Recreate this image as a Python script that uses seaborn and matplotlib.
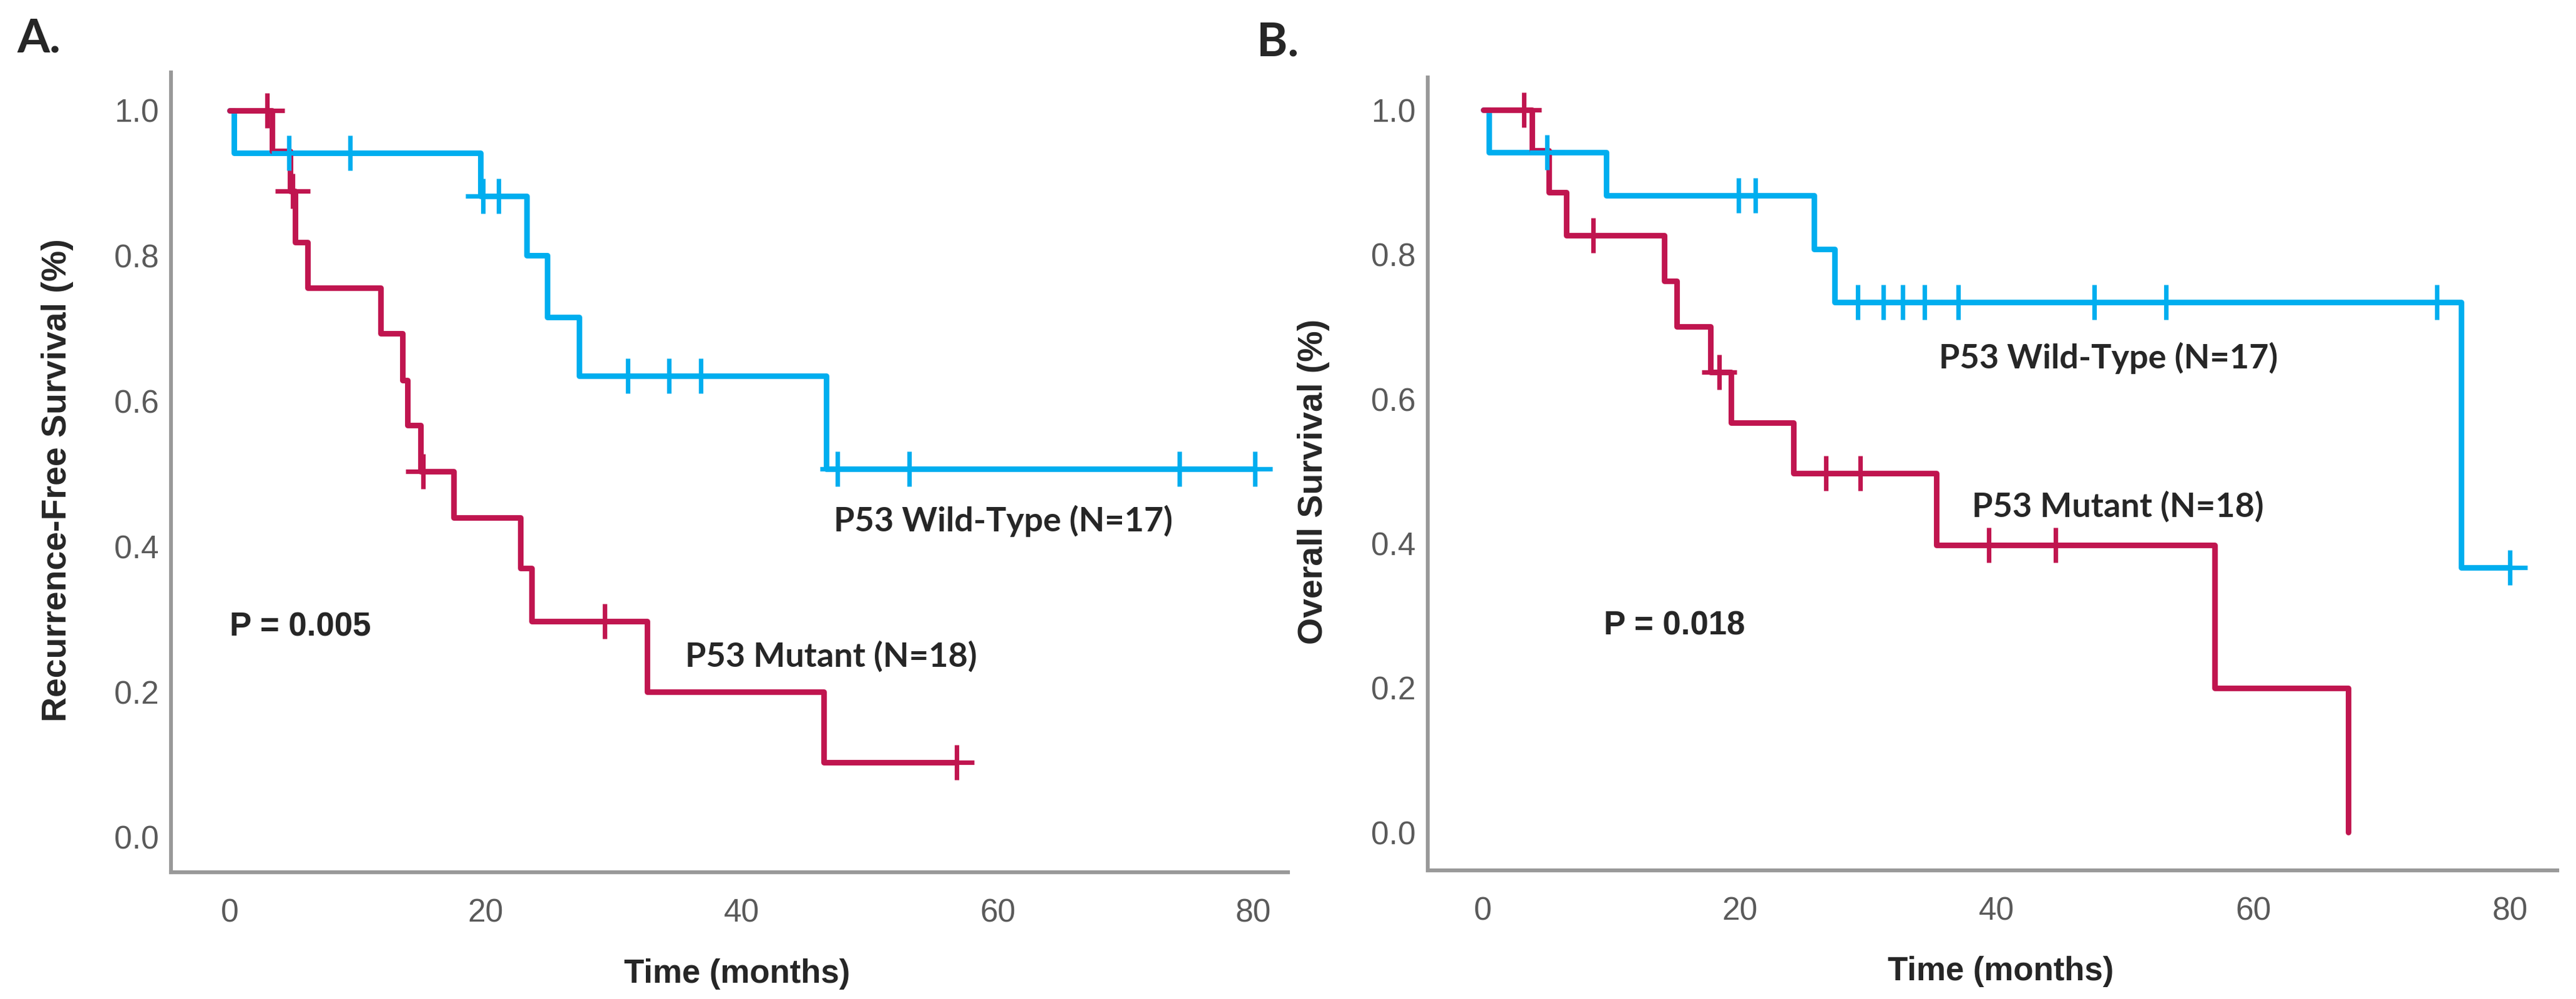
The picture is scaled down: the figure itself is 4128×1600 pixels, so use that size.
import numpy as np
import pandas as pd
import seaborn as sns
import matplotlib.pyplot as plt

# Kaplan-Meier step values (time in months, survival fraction)
# Panel A: recurrence-free survival
a_wt_time = [0, 0.3, 19.6, 23.2, 24.8, 27.3, 46.6, 80.1]
a_wt_surv = [1.0, 0.941, 0.882, 0.80, 0.715, 0.635, 0.507, 0.507]
a_wt_cens = [4.6, 9.4, 19.8, 21.0, 31.1, 34.3, 36.8, 47.5, 53.1, 74.2, 80.1]

a_mut_time = [0, 3.3, 4.7, 5.1, 6.1, 11.8, 13.5, 13.9, 14.9, 17.5, 22.7, 23.6, 32.6, 46.4, 56.8]
a_mut_surv = [1.0, 0.944, 0.889, 0.818, 0.756, 0.693, 0.629, 0.567, 0.503, 0.44, 0.37, 0.297, 0.2, 0.103, 0.103]
a_mut_cens = [2.9, 4.9, 15.1, 29.3, 56.8]

# Panel B: overall survival
b_wt_time = [0, 0.45, 9.6, 25.8, 27.4, 76.2, 80.0]
b_wt_surv = [1.0, 0.941, 0.882, 0.807, 0.734, 0.367, 0.367]
b_wt_cens = [5.0, 19.9, 21.2, 29.2, 31.2, 32.7, 34.4, 37.0, 47.6, 53.2, 74.3, 80.0]

b_mut_time = [0, 3.8, 5.1, 6.5, 14.1, 15.1, 17.7, 19.3, 24.2, 35.3, 57.0, 67.4]
b_mut_surv = [1.0, 0.944, 0.886, 0.826, 0.763, 0.70, 0.637, 0.567, 0.497, 0.398, 0.2, 0.0]
b_mut_cens = [3.2, 8.6, 18.4, 26.7, 29.4, 39.4, 44.6]

groups = ['P53 Wild-Type', 'P53 Mutant']
BLUE = '#00AEEF'
RED = '#C0154F'
palette = {'P53 Wild-Type': BLUE, 'P53 Mutant': RED}

sns.set_style('white')
ARIAL = ['Liberation Sans', 'DejaVu Sans']
CAL = ['Lato', 'DejaVu Sans']
plt.rcParams['font.family'] = ARIAL


def step_lookup(t, s, c):
    idx = np.searchsorted(np.array(t), np.array(c), side='right') - 1
    return np.array(s)[idx]


def km_frames(wt_t, wt_s, wt_c, mu_t, mu_s, mu_c):
    steps = pd.concat([
        pd.DataFrame({'time': wt_t, 'surv': wt_s, 'group': groups[0]}),
        pd.DataFrame({'time': mu_t, 'surv': mu_s, 'group': groups[1]}),
    ], ignore_index=True)
    cens = pd.concat([
        pd.DataFrame({'time': wt_c, 'surv': step_lookup(wt_t, wt_s, wt_c), 'group': groups[0]}),
        pd.DataFrame({'time': mu_c, 'surv': step_lookup(mu_t, mu_s, mu_c), 'group': groups[1]}),
    ], ignore_index=True)
    return steps, cens


fig = plt.figure(figsize=(20.64, 8), dpi=200)
axA = fig.add_axes([0.0664, 0.127, 0.4336, 0.8005])
axB = fig.add_axes([0.5543, 0.129, 0.4385, 0.7935])

panels = [
    (axA, km_frames(a_wt_time, a_wt_surv, a_wt_cens, a_mut_time, a_mut_surv, a_mut_cens),
     'Recurrence-Free Survival (%)', (-4.6, 82.7), (-0.048, 1.052)),
    (axB, km_frames(b_wt_time, b_wt_surv, b_wt_cens, b_mut_time, b_mut_surv, b_mut_cens),
     'Overall Survival (%)', (-4.3, 83.7), (-0.052, 1.045)),
]

for ax, (steps, cens), ylab, xl, yl in panels:
    for g in groups:
        sns.lineplot(data=steps[steps.group == g], x='time', y='surv', color=palette[g],
                     drawstyle='steps-post', estimator=None, linewidth=3.2, ax=ax, legend=False)
        sns.scatterplot(data=cens[cens.group == g], x='time', y='surv', color=palette[g],
                        marker='+', s=420, linewidth=2.6, ax=ax, legend=False, zorder=3)
    ax.set_xlim(*xl)
    ax.set_ylim(*yl)
    ax.set_xticks([0, 20, 40, 60, 80])
    ax.set_yticks([0.0, 0.2, 0.4, 0.6, 0.8, 1.0])
    ax.set_yticklabels([f'{v:.1f}' for v in [0.0, 0.2, 0.4, 0.6, 0.8, 1.0]])
    ax.tick_params(length=0, labelsize=18.5, labelcolor='#5a5a5a')
    ax.tick_params(axis='y', pad=7)
    ax.tick_params(axis='x', pad=15)
    for side in ['top', 'right']:
        ax.spines[side].set_visible(False)
    for side in ['left', 'bottom']:
        ax.spines[side].set_color('#999999')
        ax.spines[side].set_linewidth(2.2)
    ax.set_xlabel('Time (months)', fontsize=19, fontweight='bold')
    ax.set_ylabel(ylab, fontsize=20, fontweight='bold')
    ax.xaxis.set_label_coords(0.507, -0.108)
    ax.yaxis.set_label_coords(-0.087, 0.49)

ann = dict(fontsize=19.5, fontweight='bold', family=CAL, ha='left', va='center')
axA.text(47.2, 0.435, 'P53 Wild-Type (N=17)', **ann)
axA.text(35.6, 0.249, 'P53 Mutant (N=18)', **ann)
axA.text(0.0, 0.289, 'P = 0.005', fontsize=19, fontweight='bold', ha='left', va='center')
axB.text(35.5, 0.657, 'P53 Wild-Type (N=17)', **ann)
axB.text(38.1, 0.451, 'P53 Mutant (N=18)', **ann)
axB.text(9.4, 0.286, 'P = 0.018', fontsize=19, fontweight='bold', ha='left', va='center')

fig.text(27 / 4128, 1 - 28 / 1600, 'A.', fontsize=27, fontweight='bold', family=CAL, ha='left', va='top')
fig.text(2014 / 4128, 1 - 34 / 1600, 'B.', fontsize=27, fontweight='bold', family=CAL, ha='left', va='top')

fig.savefig('out.png', dpi=200, facecolor='white')
